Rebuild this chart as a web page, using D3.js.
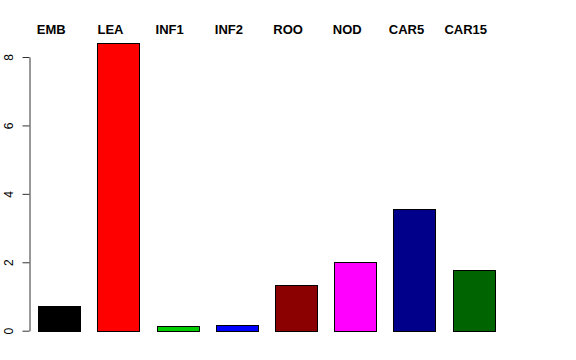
<!DOCTYPE html>
<html>
<head>
<meta charset="utf-8">
<script src="https://cdn.jsdelivr.net/npm/d3@7"></script>
<style>
  body { margin: 0; background: #fff; }
  svg { display: block; }
</style>
</head>
<body>
<div id="chart"></div>
<script>
// data
const categories = ["EMB", "LEA", "INF1", "INF2", "ROO", "NOD", "CAR5", "CAR15"]
const values = [0.73, 8.42, 0.15, 0.18, 1.34, 2.02, 3.55, 1.78]
const colors = ["#000000", "#ff0000", "#00cd00", "#0000ff", "#8b0000", "#ff00ff", "#00008b", "#006400"]
const yTicks = [0, 2, 4, 6, 8]

const width = 576, height = 360

const svg = d3.select("#chart").append("svg")
    .attr("width", width)
    .attr("height", height)

// scales
const x = d3.scaleBand()
    .domain(categories)
    .range([29.7, 503.3])
    .paddingInner(0.29)
    .paddingOuter(0.145)

const y = d3.scaleLinear()
    .domain([0, 8])
    .range([330.7, 57])

// bars
svg.append("g")
    .selectAll("rect")
    .data(categories)
    .join("rect")
    .attr("x", d => Math.round(x(d)) + 0.5)
    .attr("y", (d, i) => Math.round(y(values[i])) + 0.5)
    .attr("width", Math.round(x.bandwidth()))
    .attr("height", (d, i) => Math.round(y(0)) - Math.round(y(values[i])))
    .attr("fill", (d, i) => colors[i])
    .attr("stroke", "#000")
    .attr("stroke-width", 1)

// y axis, R style with rotated labels
const yAxis = svg.append("g")
    .attr("transform", "translate(29.5,0)")
    .call(d3.axisLeft(y).tickValues(yTicks).tickSize(7).tickSizeOuter(0).tickFormat(d3.format("d")))

yAxis.select(".domain").attr("stroke", "#333")
yAxis.selectAll(".tick line").attr("stroke", "#333")
yAxis.selectAll(".tick text")
    .attr("transform", "rotate(-90)")
    .attr("x", 0)
    .attr("y", -17)
    .attr("dy", 0)
    .attr("text-anchor", "middle")
    .style("font-family", "'Liberation Sans', Arial, sans-serif")
    .style("font-size", "12px")
    .attr("fill", "#000")

// category labels along the top
svg.append("g")
    .selectAll("text")
    .data(categories)
    .join("text")
    .attr("x", d => x(d) + x.bandwidth() / 2 - 8)
    .attr("y", 34)
    .attr("text-anchor", "middle")
    .style("font-family", "'Liberation Sans', Arial, sans-serif")
    .style("font-size", "13px")
    .style("font-weight", "bold")
    .text(d => d)
</script>
</body>
</html>
